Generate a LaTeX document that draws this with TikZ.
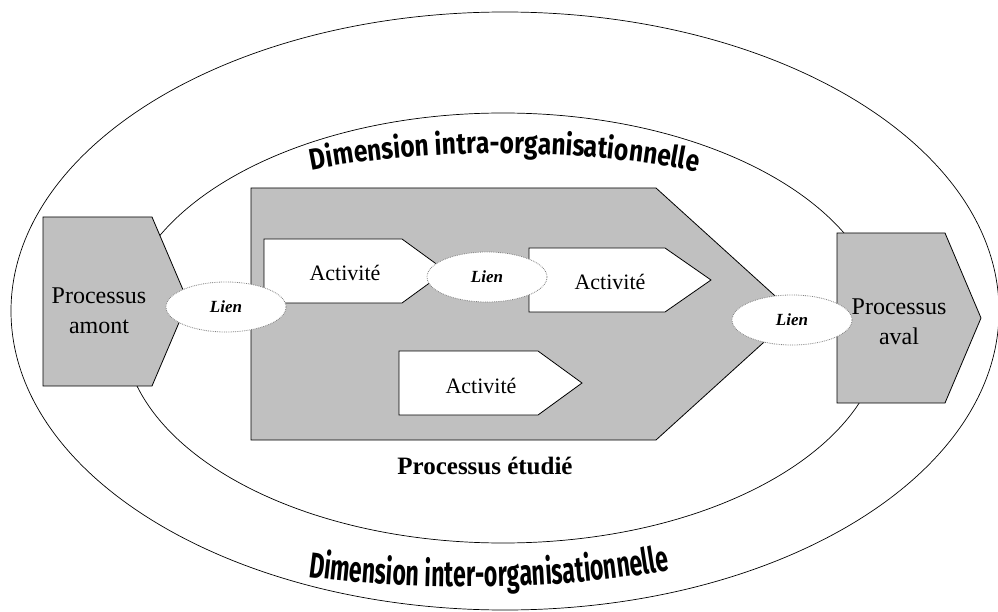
\documentclass[tikz,border=0pt]{standalone}
\usepackage{fontspec}
\setmainfont{Liberation Serif}
\newfontfamily\artfont[FakeStretch=0.82]{Fira Sans}
\newfontfamily\artfontlow[FakeStretch=0.64]{Fira Sans}
\usepackage{xcolor}
\usetikzlibrary{shapes.geometric,decorations.text}
\definecolor{procgray}{RGB}{192,192,192}

\begin{document}
\begin{tikzpicture}[
  x=1pt, y=-1pt,
  line width=0.8pt,
  ring/.style={draw, line width=0.7pt},
  proc/.style={draw, fill=procgray, line join=miter},
  activ/.style={draw, fill=white, line join=miter},
  lien/.style={
    ellipse,
    draw=gray,
    densely dotted,
    fill=white,
    minimum width=120pt,
    minimum height=50pt,
    inner sep=0pt,
    font=\fontsize{17}{17}\selectfont\bfseries\itshape
  },
  plabel/.style={align=center, font=\fontsize{24}{30}\selectfont},
  alabel/.style={font=\fontsize{22}{22}\selectfont},
  dim/.style={decorate, decoration={text along path, text align=center, text={#1}}}
]
  \useasboundingbox (0,0) rectangle (998,612);

  % the two dimensions
  \draw[ring] (505,311) ellipse [x radius=494, y radius=299];
  \draw[ring] (503,328) ellipse [x radius=380, y radius=215];
  \path[dim={|\artfont\bfseries\fontsize{30}{30}\selectfont|Dimension intra-organisationnelle}]
    (303,172) .. controls (420,147) and (590,147) .. (706,174);
  \path[dim={|\artfontlow\bfseries\fontsize{36}{36}\selectfont|Dimension inter-organisationnelle}]
    (308,577) .. controls (420,592) and (560,590) .. (670,570);

  % processes
  \draw[proc] (43,217) -- (152,217) -- (188,301.5) -- (152,386) -- (43,386) -- cycle;
  \draw[proc] (837,233) -- (945,233) -- (981,318) -- (945,403) -- (837,403) -- cycle;
  \draw[proc] (251,188) -- (656,188) -- (795,314) -- (656,440) -- (251,440) -- cycle;

  % activities
  \draw[activ] (264,239) -- (402,239) -- (446,271) -- (402,303) -- (264,303) -- cycle;
  \draw[activ] (529,248) -- (665,248) -- (711,280) -- (665,312) -- (529,312) -- cycle;
  \draw[activ] (399,351) -- (538,351) -- (582,383) -- (538,415) -- (399,415) -- cycle;

  \node[plabel] (amont) at (99,311) {Processus\\amont};
  \node[plabel] (aval) at (899,322) {Processus\\aval};
  \node[font=\fontsize{25}{25}\selectfont\bfseries] (etudie) at (485,466) {Processus étudié};

  \node[alabel] (act1) at (345,273) {Activité};
  \node[alabel] (act2) at (610,282) {Activité};
  \node[alabel] (act3) at (481,386) {Activité};

  % links
  \node[lien] (lien1) at (226,307) {Lien};
  \node[lien] (lien2) at (487,277) {Lien};
  \node[lien] (lien3) at (792,320) {Lien};
\end{tikzpicture}
\end{document}
